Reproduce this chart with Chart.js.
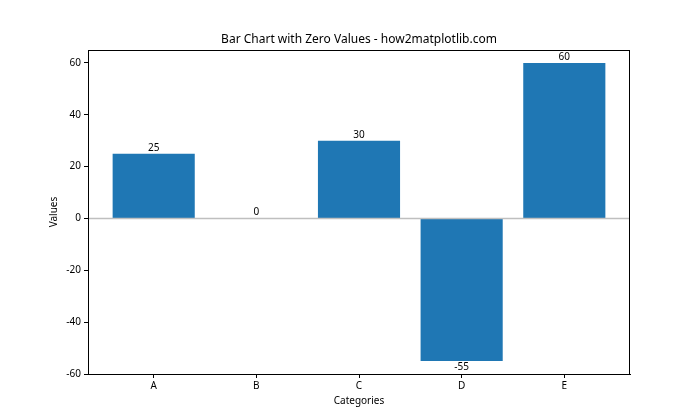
<!DOCTYPE html>
<html>
<head>
<meta charset="utf-8">
<script src="https://cdn.jsdelivr.net/npm/chart.js@4/dist/chart.umd.min.js"></script>
<style>
  html, body { margin: 0; padding: 0; background: #fff; }
  #wrap { width: 700px; height: 420px; }
</style>
</head>
<body>
<div id="wrap"><canvas id="chart"></canvas></div>
<script>
const categories = ["A", "B", "C", "D", "E"];
const values = [25, 0, 30, -55, 60];
const yTicks = [-60, -40, -20, 0, 20, 40, 60];
const chartTitle = "Bar Chart with Zero Values - how2matplotlib.com";

const FONT = "'Noto Sans', 'DejaVu Sans', sans-serif";

// value labels above / below each bar
const barLabels = {
  id: "barLabels",
  afterDatasetsDraw(chart) {
    const ctx = chart.ctx;
    const meta = chart.getDatasetMeta(0);
    ctx.save();
    ctx.font = "10px " + FONT;
    ctx.fillStyle = "#000";
    ctx.textAlign = "center";
    meta.data.forEach((bar, i) => {
      const v = values[i];
      if (v < 0) {
        ctx.textBaseline = "top";
        ctx.fillText(String(v), bar.x, bar.y + 1);
      } else {
        ctx.textBaseline = "bottom";
        ctx.fillText(String(v), bar.x, bar.y - 1);
      }
    });
    ctx.restore();
  }
};

// zero line, box around the plot area, title centred on the plot area
const frame = {
  id: "frame",
  afterDatasetsDraw(chart) {
    const { ctx, chartArea: a, scales } = chart;
    const y0 = scales.y.getPixelForValue(0);
    ctx.save();
    ctx.strokeStyle = "#bfbfbf";
    ctx.lineWidth = 1.3;
    ctx.beginPath();
    ctx.moveTo(a.left, y0);
    ctx.lineTo(a.right, y0);
    ctx.stroke();
    ctx.strokeStyle = "#000";
    ctx.lineWidth = 1;
    ctx.strokeRect(a.left + 0.5, a.top + 0.5, a.right - a.left - 1, a.bottom - a.top);
    ctx.font = "12px " + FONT;
    ctx.fillStyle = "#000";
    ctx.textAlign = "center";
    ctx.textBaseline = "middle";
    ctx.fillText(chartTitle, (a.left + a.right) / 2, 40);
    ctx.restore();
  }
};

new Chart(document.getElementById("chart"), {
  type: "bar",
  data: {
    datasets: [{
      data: values.map((v, i) => ({ x: i, y: v })),
      backgroundColor: "#1f77b4",
      borderWidth: 0,
      categoryPercentage: 1,
      barPercentage: 0.8
    }]
  },
  options: {
    responsive: true,
    maintainAspectRatio: false,
    animation: false,
    layout: { padding: { left: 0, right: 70, top: 50, bottom: 0 } },
    plugins: {
      legend: { display: false },
      tooltip: { enabled: false },
      title: { display: false }
    },
    scales: {
      x: {
        type: "linear",
        min: -0.64,
        max: 4.64,
        offset: false,
        afterBuildTicks: (s) => { s.ticks = categories.map((_, i) => ({ value: i })); },
        afterFit: (s) => { s.height = 46; },
        ticks: {
          callback: (v) => categories[v],
          color: "#000",
          font: { family: FONT, size: 10 },
          padding: 2,
          maxRotation: 0
        },
        grid: { offset: false, drawOnChartArea: false, tickLength: 4, color: "#000" },
        border: { display: true, color: "#000" },
        title: {
          display: true,
          text: "Categories",
          color: "#000",
          font: { family: FONT, size: 10 },
          padding: { top: 0, bottom: 13 }
        }
      },
      y: {
        min: -60,
        max: 65,
        afterBuildTicks: (s) => { s.ticks = yTicks.map((v) => ({ value: v })); },
        afterFit: (s) => { s.width = 88; },
        ticks: {
          color: "#000",
          font: { family: FONT, size: 10 },
          padding: 3
        },
        grid: { drawOnChartArea: false, tickLength: 4, color: "#000" },
        border: { display: true, color: "#000" },
        title: {
          display: true,
          text: "Values",
          color: "#000",
          font: { family: FONT, size: 10 },
          padding: { top: 48, bottom: 0 }
        }
      }
    }
  },
  plugins: [barLabels, frame]
});
</script>
</body>
</html>
